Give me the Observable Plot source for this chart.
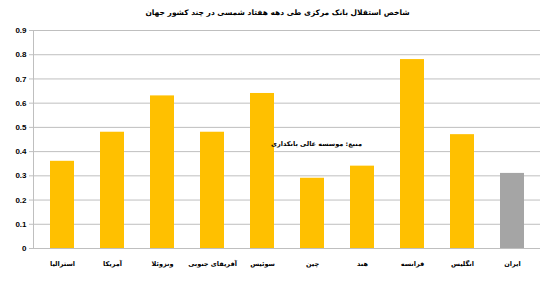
<!DOCTYPE html>
<html>
<head>
<meta charset="utf-8">
<script src="https://cdn.jsdelivr.net/npm/d3@7"></script>
<script src="https://cdn.jsdelivr.net/npm/@observablehq/plot@0.6"></script>
<style>
  body { margin: 0; background: #fff; }
  #wrap { width: 555px; position: relative; font-family: "DejaVu Sans", sans-serif; }
  #title { height: 22px; line-height: 26px; text-align: center; font-weight: bold; font-size: 7.5px; color: #000; direction: rtl; }
</style>
</head>
<body>
<div id="wrap">
  <div id="title">شاخص استقلال بانک مرکزی طی دهه هفتاد شمسی در چند کشور جهان</div>
  <div id="chart"></div>
</div>
<script>
const countries = ["استرالیا", "آمریکا", "ونزوئلا", "آفریقای جنوبی", "سوئیس", "چین", "هند", "فرانسه", "انگلیس", "ایران"];
const values = [0.36, 0.48, 0.63, 0.48, 0.64, 0.29, 0.34, 0.78, 0.47, 0.31];
const highlight = ["ایران"];
const yTicks = [0, 0.1, 0.2, 0.3, 0.4, 0.5, 0.6, 0.7, 0.8, 0.9];
const sourceNote = "منبع: موسسه عالی بانکداری";
const notePos = {country: "چین", value: 0.43};

const data = countries.map((c, i) => ({country: c, value: values[i]}));

const chart = Plot.plot({
  width: 555,
  height: 264,
  marginTop: 8,
  marginBottom: 38,
  marginLeft: 33,
  marginRight: 15,
  style: {fontFamily: "DejaVu Sans, sans-serif", fontSize: "6.5px", fontWeight: "bold", color: "#000"},
  x: {domain: countries, paddingInner: 0.52, paddingOuter: 0.26, label: null},
  y: {domain: [0, 0.9], ticks: yTicks, label: null},
  marks: [
    Plot.gridY(yTicks, {stroke: "#bfbfbf", strokeOpacity: 1}),
    Plot.axisY(yTicks, {tickSize: 4, tickPadding: 3, stroke: "#bfbfbf", tickFormat: d => d === 0 ? "0" : d3.format(".1f")(d), fontWeight: "bold", fontSize: 8, fontFamily: "Liberation Sans, Arial, sans-serif"}),
    Plot.barY(data, {x: "country", y: "value", fill: d => highlight.includes(d.country) ? "#a5a5a5" : "#ffc000"}),
    Plot.frame({anchor: "left", stroke: "#bfbfbf"}),
    Plot.ruleY([0], {stroke: "#bfbfbf"}),
    Plot.axisX({tickSize: 0, tickPadding: 13, fontWeight: "bold", fontSize: 6.5}),
    Plot.text([notePos], {x: "country", y: "value", text: () => sourceNote, dx: 4, fontWeight: "bold", fontSize: 6.5})
  ]
});
document.getElementById("chart").appendChild(chart);
</script>
</body>
</html>
